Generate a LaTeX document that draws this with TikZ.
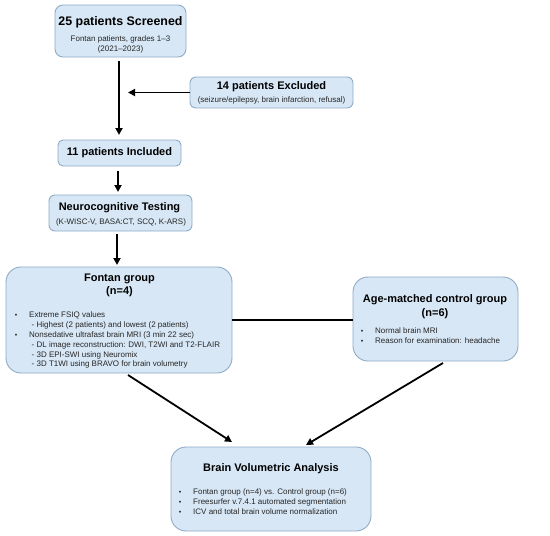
\documentclass[tikz,border=0pt]{standalone}
\usepackage{fontspec}
\setmainfont{Liberation Sans}
\usetikzlibrary{arrows.meta,calc}
\definecolor{boxfill}{HTML}{D7E7F5}
\definecolor{boxline}{HTML}{8FABC6}
\definecolor{bodytext}{HTML}{262626}
\tikzset{
  box/.style={draw=boxline, fill=boxfill, line width=0.9pt, inner sep=0pt, outer sep=0pt},
  ttl/.style={inner sep=0pt, anchor=mid, font=\fontsize{11}{13}\selectfont\bfseries, text=black},
  sub/.style={inner sep=0pt, anchor=mid, font=\fontsize{8}{10}\selectfont, text=bodytext},
  item/.style={inner sep=0pt, anchor=mid west, font=\fontsize{8}{10}\selectfont, text=bodytext},
  bul/.style={inner sep=0pt, anchor=mid, font=\fontsize{7}{9}\selectfont, text=bodytext},
  arr/.style={line width=1.8pt, -{Triangle[length=7pt,width=7pt]}},
  link/.style={line width=1.8pt}
}
\begin{document}
\begin{tikzpicture}[x=1pt,y=-1pt]
\useasboundingbox (0,0) rectangle (550,536);
% boxes
\node[box, rounded corners=8pt, minimum width=131pt, minimum height=52pt] (B1) at (120.5,31) {};
\node[box, rounded corners=6pt, minimum width=163pt, minimum height=31pt] (B2) at (271.5,92.5) {};
\node[box, rounded corners=5pt, minimum width=123pt, minimum height=26pt] (B3) at (119.5,153) {};
\node[box, rounded corners=6pt, minimum width=143pt, minimum height=36pt] (B4) at (120.5,213) {};
\node[box, rounded corners=15pt, minimum width=226pt, minimum height=106pt] (B5) at (119,320) {};
\node[box, rounded corners=15pt, minimum width=165pt, minimum height=84pt] (B6) at (435.5,319) {};
\node[box, rounded corners=15pt, minimum width=200pt, minimum height=84pt] (B7) at (271,489) {};
% texts box 1
\node[ttl, font=\fontsize{12.4}{14}\selectfont\bfseries] (t1) at (120.5,22.7) {25 patients Screened};
\node[sub] (t1a) at (120.5,39) {Fontan patients, grades 1–3};
\node[sub] (t1b) at (120.5,49) {(2021–2023)};
% box 2
\node[ttl] (t2) at (271.5,87) {14 patients Excluded};
\node[sub] (t2a) at (271.5,100) {(seizure/epilepsy, brain infarction, refusal)};
% box 3
\node[ttl] (t3) at (119.5,153) {11 patients Included};
% box 4
\node[ttl] (t4) at (119.5,208) {Neurocognitive Testing};
\node[sub] (t4a) at (121,222) {(K-WISC-V, BASA:CT, SCQ, K-ARS)};
% box 5
\node[ttl] (t5) at (119.5,279) {Fontan group};
\node[ttl] (t5n) at (119.5,292) {(n=4)};
\node[bul] (b5a) at (16,315) {•};
\node[item] (i5a) at (29,315) {Extreme FSIQ values};
\node[item] (i5b) at (31.5,325) {- Highest (2 patients) and lowest (2 patients)};
\node[bul] (b5c) at (16,335) {•};
\node[item] (i5c) at (29,335) {Nonsedative ultrafast brain MRI (3 min 22 sec)};
\node[item] (i5d) at (31.5,345) {- DL image reconstruction: DWI, T2WI and T2-FLAIR};
\node[item] (i5e) at (31.5,354.5) {- 3D EPI-SWI using Neuromix};
\node[item] (i5f) at (31.5,364) {- 3D T1WI using BRAVO for brain volumetry};
% box 6
\node[ttl] (t6) at (435,300) {Age-matched control group};
\node[ttl] (t6n) at (435,314) {(n=6)};
\node[bul] (b6a) at (362,331) {•};
\node[item] (i6a) at (375,331) {Normal brain MRI};
\node[bul] (b6b) at (362,340.5) {•};
\node[item] (i6b) at (375,340.5) {Reason for examination: headache};
% box 7
\node[ttl] (t7) at (271,469) {Brain Volumetric Analysis};
\node[bul] (b7a) at (180,492) {•};
\node[item] (i7a) at (193,492) {Fontan group (n=4) vs. Control group (n=6)};
\node[bul] (b7b) at (180,502) {•};
\node[item] (i7b) at (193,502) {Freesurfer v.7.4.1 automated segmentation};
\node[bul] (b7c) at (180,512) {•};
\node[item] (i7c) at (193,512) {ICV and total brain volume normalization};
% connectors
\coordinate (ex) at (128,92.5);
\draw[arr, shorten <=4pt, shorten >=5pt] (B1.south -| 119,0) -- (B3.north -| 119,0);
\draw[arr] (B2.west) -- (ex);
\draw[arr, shorten <=5pt, shorten >=3pt] (B3.south -| 118,0) -- (B4.north -| 118,0);
\draw[arr, shorten <=3pt, shorten >=2pt] (B4.south -| 117,0) -- (B5.north -| 117,0);
\draw[link] (B5.east) -- (B5.east -| B6.west);
\draw[arr] ($(B5.south)+(9,2)$) -- ($(B7.north)+(-39,-5)$);
\draw[arr] ($(B6.south)+(7.5,2)$) -- ($(B7.north)+(35,-2)$);
\end{tikzpicture}
\end{document}
